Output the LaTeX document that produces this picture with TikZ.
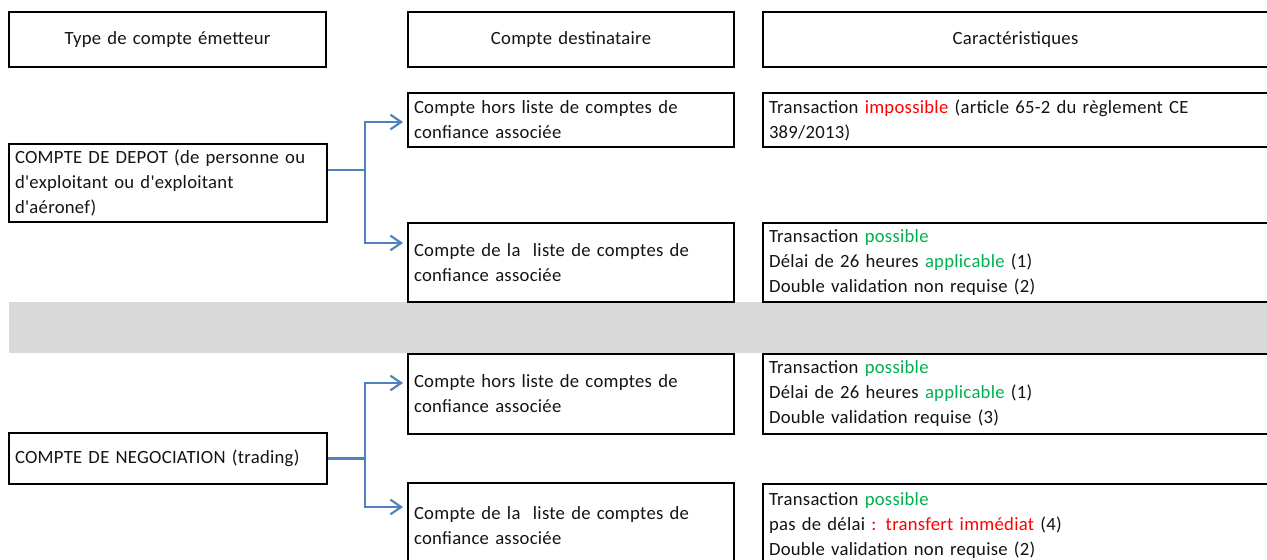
\documentclass[tikz,border=0pt]{standalone}
\usepackage{fontspec}
\newfontfamily\mainf{Carlito}[LetterSpace=1.5]
\usetikzlibrary{arrows.meta,calc}
\definecolor{tred}{RGB}{255,0,0}
\definecolor{tgreen}{RGB}{0,176,80}
\definecolor{tblue}{RGB}{79,129,189}
\definecolor{tgray}{RGB}{217,217,217}
\definecolor{ttext}{RGB}{20,20,20}
\begin{document}
\begin{tikzpicture}[x=0.75pt,y=-0.75pt,
  every node/.style={font=\mainf\fontsize{14}{18.75}\selectfont, text=ttext},
  box/.style 2 args={draw, line width=1.5pt, anchor=north west,
    minimum width=#1*0.75pt, minimum height=#2*0.75pt,
    inner xsep=4.5pt, inner ysep=0pt, text width=#1*0.75pt-9pt, align=left},
  hbox/.style 2 args={box={#1}{#2}, align=center},
  conn/.style={draw=tblue, line width=1.6pt},
  arr/.style={conn, -{Straight Barb[length=8pt,width=11pt]}, shorten >=3pt}]
\clip (0,0) rectangle (1267,560);
\fill[white] (0,0) rectangle (1267,560);
% gray band
\fill[tgray] (9,302) rectangle (1290,353);
% headers
\node[hbox={317}{55}] (h1) at (8,11) {Type de compte émetteur};
\node[hbox={326}{55}] (h2) at (407,11) {Compte destinataire};
\node[hbox={505}{55}] (h3) at (762,11) {Caractéristiques};
\draw[line width=1.5pt] (h3.north east) -- ++(40,0) (h3.south east) -- ++(40,0);
% upper section
\node[box={318}{78}] (src1) at (8,143) {COMPTE DE DEPOT (de personne ou\\d'exploitant ou d'exploitant\\d'aéronef)};
\node[box={326}{54}] (d1) at (407,92) {Compte hors liste de comptes de\\confiance associée};
\node[box={540}{54}] (c1) at (762,92) {Transaction \textcolor{tred}{impossible} (article 65-2 du règlement CE\\389/2013)};
\node[box={326}{79}] (d2) at (407,222) {Compte de la\ \ liste de comptes de\\confiance associée};
\node[box={540}{79}] (c2) at (762,222) {Transaction \textcolor{tgreen}{possible}\\Délai de 26 heures \textcolor{tgreen}{applicable} (1)\\Double validation non requise (2)};
% lower section
\node[box={326}{80}] (d3) at (407,353) {Compte hors liste de comptes de\\confiance associée};
\node[box={540}{80}] (c3) at (762,353) {Transaction \textcolor{tgreen}{possible}\\Délai de 26 heures \textcolor{tgreen}{applicable} (1)\\Double validation requise (3)};
\node[box={318}{51}] (src2) at (8,432) {COMPTE DE NEGOCIATION (trading)};
\node[box={326}{86}] (d4) at (407,482) {Compte de la\ \ liste de comptes de\\confiance associée};
\node[box={540}{84}] (c4) at (762,483) {Transaction \textcolor{tgreen}{possible}\\pas de délai \textcolor{tred}{: transfert immédiat} (4)\\Double validation non requise (2)};
% connectors upper
\coordinate (j1) at ($(src1.north east)+(37,27)$);
\coordinate (a1) at ($(d1.north west)+(0,30)$);
\coordinate (a2) at ($(d2.north west)+(0,21)$);
\draw[conn] ($(src1.north east)+(0,27)$) -- (j1);
\draw[arr] (j1) |- (a1);
\draw[arr] (j1) |- (a2);
% connectors lower
\coordinate (j2) at ($(src2.east)+(37,0)$);
\coordinate (a3) at ($(d3.north west)+(0,30)$);
\coordinate (a4) at ($(d4.north west)+(0,25)$);
\draw[conn] (src2.east) -- (j2);
\draw[arr] (j2) |- (a3);
\draw[arr] (j2) |- (a4);
\end{tikzpicture}
\end{document}
